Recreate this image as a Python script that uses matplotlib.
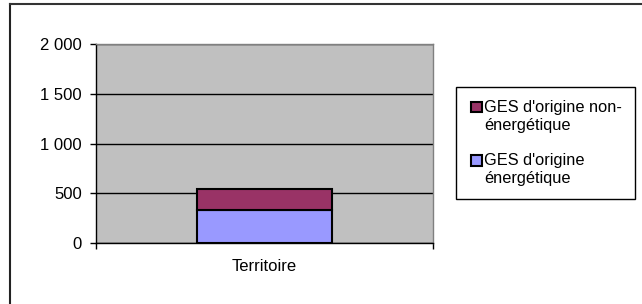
import matplotlib
matplotlib.use("Agg")
import matplotlib.pyplot as plt
from matplotlib.lines import Line2D
from matplotlib.patches import Patch, Rectangle
from matplotlib.legend_handler import HandlerPatch
from matplotlib.ticker import FuncFormatter

categories = ["Territoire"]
energetique = [330]
non_energetique = [210]
series_labels = ["GES d'origine\nénergétique", "GES d'origine non-\nénergétique"]
yticks = [0, 500, 1000, 1500, 2000]

plt.rcParams['font.family'] = ['Liberation Sans', 'DejaVu Sans']
W, H = 642, 304
fig = plt.figure(figsize=(W / 100, H / 100), dpi=100)
fig.patch.set_facecolor('white')

ax = fig.add_axes([96 / W, 1 - 242.7 / H, (433 - 96) / W, (242.7 - 44.3) / H])
ax.set_facecolor('#C0C0C0')

x = list(range(len(categories)))
ax.bar(x, energetique, width=0.4, color='#9999FF', edgecolor='black', linewidth=1.5, zorder=3)
ax.bar(x, non_energetique, width=0.4, bottom=energetique, color='#993366', edgecolor='black', linewidth=1.5, zorder=3)

ax.set_xlim(-0.5, len(categories) - 0.5)
ax.set_ylim(0, 2000)
ax.set_yticks(yticks)
ax.yaxis.set_major_formatter(FuncFormatter(lambda v, p: f"{int(v):,}".replace(",", " ")))
ax.tick_params(axis='y', direction='out', length=4.5, width=1, pad=5.5, labelsize=12, colors='black')
ax.grid(axis='y', color='black', linewidth=1, zorder=1)
ax.set_axisbelow(True)

ax.set_xticks([i - 0.5 for i in range(len(categories) + 1)])
ax.set_xticklabels([])
ax.tick_params(axis='x', which='major', direction='out', length=4.5, width=1)
ax.set_xticks(x, minor=True)
ax.set_xticklabels(categories, minor=True)
ax.tick_params(axis='x', which='minor', length=0, pad=12, labelsize=12)

for s in ['left', 'bottom']:
    ax.spines[s].set_color('black')
    ax.spines[s].set_linewidth(1)
for s in ['top', 'right']:
    ax.spines[s].set_color('#808080')
    ax.spines[s].set_linewidth(1)


def first_line_patch(legend, orig_handle, xdescent, ydescent, width, height, fontsize):
    s = 0.66 * fontsize
    off = 0.6 * fontsize
    return Rectangle((-xdescent + width - s, -ydescent + off), s, s)


handles = [Patch(facecolor='#993366', edgecolor='black', linewidth=1.5),
           Patch(facecolor='#9999FF', edgecolor='black', linewidth=1.5)]
leg = fig.legend(handles, [series_labels[1], series_labels[0]], loc='upper left',
                 bbox_to_anchor=(456 / W, 1 - 87 / H), bbox_transform=fig.transFigure,
                 borderaxespad=0, fancybox=False, edgecolor='black', framealpha=1,
                 fontsize=11.8, handlelength=0.78, handleheight=0.7, handletextpad=0.12,
                 labelspacing=1.26, borderpad=0.8,
                 handler_map={Patch: HandlerPatch(patch_func=first_line_patch)})
leg.get_frame().set_linewidth(1)

fig.add_artist(Line2D([10 / W, 10 / W], [0, 1 - 4 / H], transform=fig.transFigure, color='#222222', linewidth=1.5))
fig.add_artist(Line2D([10 / W, 1], [1 - 4 / H, 1 - 4 / H], transform=fig.transFigure, color='#333333', linewidth=1.5))

fig.savefig('out.png', dpi=100)
